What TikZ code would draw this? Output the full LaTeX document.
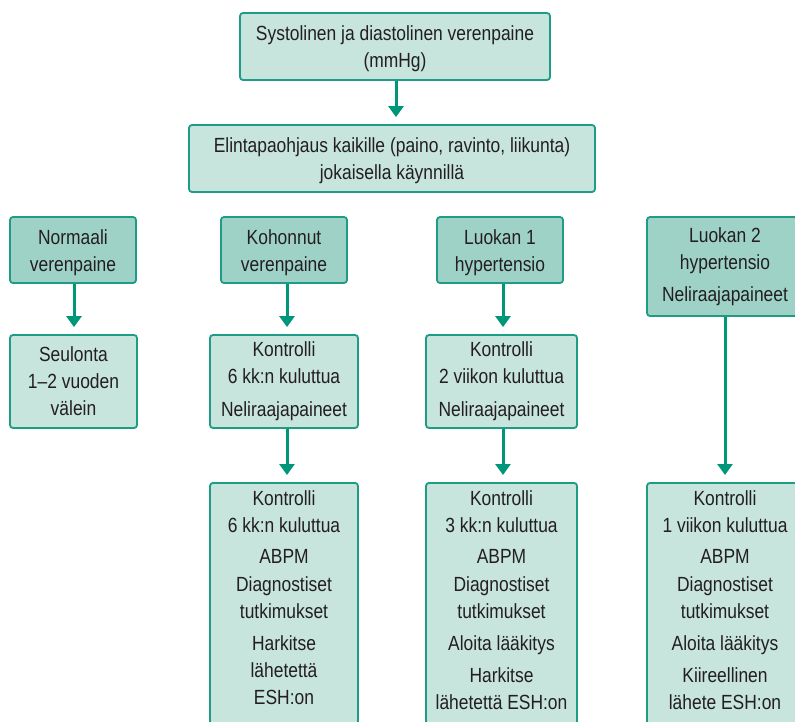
\documentclass[tikz,border=0pt]{standalone}
\usepackage{fontspec}
\setmainfont[FakeStretch=0.85]{Liberation Sans}
\usetikzlibrary{arrows.meta}
\definecolor{tealb}{HTML}{1F9C85}
\definecolor{arrc}{HTML}{00967A}
\definecolor{darkf}{HTML}{9FD2C7}
\definecolor{lightf}{HTML}{C7E4DD}
\definecolor{txt}{HTML}{231F20}
\newcommand{\myfont}{\fontsize{20.5pt}{27pt}\selectfont}
\newcommand{\bcol}[2]{\begin{minipage}[t][260pt][t]{#1}\centering\rule{0pt}{23pt}#2\end{minipage}}
\tikzset{
  boxbase/.style={draw=tealb, line width=1.8pt, rounded corners=3pt, text=txt, font=\myfont, inner sep=0pt},
  darkbox/.style={boxbase, fill=darkf, align=center},
  lightbox/.style={boxbase, fill=lightf, align=center},
  tallbox/.style={boxbase, fill=lightf, anchor=north},
  arr/.style={draw=arrc, line width=3pt, -{Triangle[length=11pt,width=15pt]}, shorten >=7pt}
}
\begin{document}
\begin{tikzpicture}[x=1pt,y=-1pt]
\useasboundingbox (0,0) rectangle (795,721);
\clip (0,0) rectangle (795,721);
\node[lightbox, minimum width=310, minimum height=67] (top) at (395,46.5) {\rule{0pt}{20pt}Systolinen ja diastolinen verenpaine\\(mmHg)};
\node[lightbox, minimum width=406, minimum height=67] (life) at (392,158.5) {\rule{0pt}{20pt}Elintapaohjaus kaikille (paino, ravinto, liikunta)\\jokaisella käynnillä};

\node[darkbox, minimum width=126, minimum height=66] (norm) at (73,250) {\rule{0pt}{20pt}Normaali\\verenpaine};
\node[darkbox, minimum width=126, minimum height=66] (koh) at (284,250) {\rule{0pt}{20pt}Kohonnut\\verenpaine};
\node[darkbox, minimum width=126, minimum height=66] (luo1) at (500,250) {\rule{0pt}{20pt}Luokan 1\\hypertensio};
\node[darkbox, minimum width=156, minimum height=99] (luo2) at (725,266.5) {Luokan 2\\hypertensio\\[5pt]Neliraajapaineet};

\node[lightbox, minimum width=127, minimum height=93] (seul) at (73.5,381.5) {Seulonta\\1–2 vuoden\\välein};
\node[lightbox, minimum width=148, minimum height=93] (k6a) at (284,381.5) {Kontrolli\\6 kk:n kuluttua\\[6pt]Neliraajapaineet};
\node[lightbox, minimum width=151, minimum height=93] (k2v) at (501.5,381.5) {Kontrolli\\2 viikon kuluttua\\[6pt]Neliraajapaineet};

\node[tallbox] (k6b) at (284,482) {\bcol{148pt}{Kontrolli\\6 kk:n kuluttua\\[4pt]ABPM\\[1pt]Diagnostiset\\tutkimukset\\[5pt]Harkitse\\lähetettä\\ESH:on}};
\node[tallbox] (k3k) at (501.5,482) {\bcol{151pt}{Kontrolli\\3 kk:n kuluttua\\[4pt]ABPM\\[1pt]Diagnostiset\\tutkimukset\\[5pt]Aloita lääkitys\\[5pt]Harkitse\\lähetettä ESH:on}};
\node[tallbox] (k1v) at (725,482) {\bcol{156pt}{Kontrolli\\1 viikon kuluttua\\[4pt]ABPM\\[1pt]Diagnostiset\\tutkimukset\\[5pt]Aloita lääkitys\\[5pt]Kiireellinen\\lähete ESH:on}};

\draw[arr] ([xshift=1pt]top.south) -- ([xshift=1pt]top.south |- life.north);
\draw[arr] ([xshift=1pt]norm.south) -- ([xshift=1pt]norm.south |- seul.north);
\draw[arr] ([xshift=3pt]koh.south) -- ([xshift=3pt]koh.south |- k6a.north);
\draw[arr] ([xshift=3pt]luo1.south) -- ([xshift=3pt]luo1.south |- k2v.north);
\draw[arr] ([xshift=3pt]k6a.south) -- ([xshift=3pt]k6a.south |- k6b.north);
\draw[arr] ([xshift=1.5pt]k2v.south) -- ([xshift=1.5pt]k2v.south |- k3k.north);
\draw[arr] (luo2.south) -- (luo2.south |- k1v.north);
\end{tikzpicture}
\end{document}
